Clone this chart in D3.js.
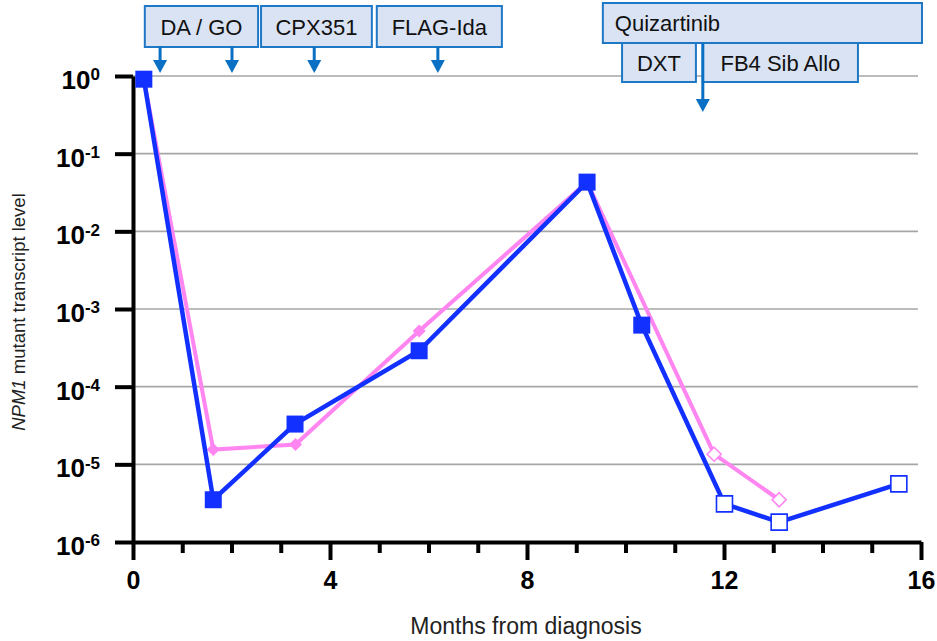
<!DOCTYPE html>
<html><head><meta charset="utf-8">
<script src="https://cdn.jsdelivr.net/npm/d3@7"></script>
<style>
body{margin:0;background:#fff}
svg{display:block}
text{font-family:"Liberation Sans",Arial,sans-serif}
</style></head>
<body><svg id="c" width="937" height="641"></svg>
<script>
// ---- data ----
const blueMonths = [0.22, 1.63, 3.29, 5.81, 9.22, 10.33, 12.01, 13.12, 15.55];
const blueValues = [0.91, 3.5e-6, 3.3e-5, 2.9e-4, 0.043, 6.2e-4, 3.1e-6, 1.8e-6, 5.6e-6];
const blueOpen   = [false, false, false, false, false, false, true, true, true];
const pinkMonths = [0.22, 1.63, 3.30, 5.81, 9.22, 11.80, 13.12];
const pinkValues = [0.91, 1.55e-5, 1.8e-5, 5.2e-4, 0.043, 1.35e-5, 3.5e-6];
const pinkOpen   = [false, false, false, false, false, true, true];
const xMajorTicks = [0, 4, 8, 12, 16];
const xMinorTicks = d3.range(0, 17, 1);
const yExponents = [0, -1, -2, -3, -4, -5, -6];
const annLabels = ["DA / GO", "CPX351", "FLAG-Ida", "Quizartinib", "DXT", "FB4 Sib Allo"];
const annStart  = [0.24, 2.60, 4.95, 9.54, 9.93, 11.57];
const annEnd    = [2.54, 4.85, 7.49, 16.02, 11.43, 14.72];
const annRow    = [0, 0, 0, 1, 2, 2];
const arrowMonths = [0.55, 2.01, 3.68, 6.19, 11.57];
const arrowRow    = [0, 0, 0, 0, 1];

// ---- layout ----
const svg = d3.select("#c");
const x = d3.scaleLinear([0, 16], [133, 921]);
const y = d3.scaleLog([1e-6, 1], [542, 76]);
const BLUE = "#1230ff", PINK = "#ff85f0";
const rows = [{y0: 6, y1: 47}, {y0: 3, y1: 43}, {y0: 43, y1: 82}];
const arrowSpan = [{y0: 47, y1: 73}, {y0: 43, y1: 112}];

// gridlines
svg.append("g").selectAll("line").data(yExponents.slice(0, 6)).join("line")
  .attr("x1", x(0)).attr("x2", 918)
  .attr("y1", d => y(Math.pow(10, d))).attr("y2", d => y(Math.pow(10, d)))
  .attr("stroke", "#a6a6a6").attr("stroke-width", 1.6);

// x axis
const gx = svg.append("g").attr("transform", `translate(0,${y(1e-6)})`)
  .call(d3.axisBottom(x).tickValues(xMinorTicks).tickSize(11).tickSizeOuter(0)
    .tickFormat(d => xMajorTicks.includes(d) ? d : ""));
gx.select(".domain").attr("stroke", "#000").attr("stroke-width", 4);
gx.selectAll(".tick line").attr("stroke", "#000").attr("stroke-width", 4)
  .attr("y2", d => xMajorTicks.includes(d) ? 18 : 11);
gx.selectAll(".tick text").attr("y", 29).attr("font-size", 25).attr("font-weight", "bold")
  .attr("fill", "#000").attr("font-family", "Liberation Sans, Arial, sans-serif");

// y axis
const gy = svg.append("g").attr("transform", `translate(${x(0)},0)`)
  .call(d3.axisLeft(y).tickValues(yExponents.map(e => Math.pow(10, e))).tickSize(18).tickPadding(15).tickSizeOuter(0));
gy.select(".domain").attr("stroke", "#000").attr("stroke-width", 4);
gy.selectAll(".tick line").attr("stroke", "#000").attr("stroke-width", 4);
gy.selectAll(".tick text").attr("dy", "0.48em").attr("font-size", 26).attr("font-weight", "bold")
  .attr("fill", "#000").attr("font-family", "Liberation Sans, Arial, sans-serif")
  .each(function(d) {
    const t = d3.select(this);
    t.text("10");
    t.append("tspan").attr("dy", "-0.5em").attr("font-size", 17)
      .text(Math.round(Math.log10(d)));
  });

// titles
svg.append("text").attr("x", 526).attr("y", 634).attr("text-anchor", "middle")
  .attr("font-size", 23).attr("fill", "#222").text("Months from diagnosis");
const yt = svg.append("text").attr("transform", "translate(25,312) rotate(-90)")
  .attr("text-anchor", "middle").attr("font-size", 18.5).attr("fill", "#222");
yt.append("tspan").attr("font-style", "italic").text("NPM1");
yt.append("tspan").text(" mutant transcript level");

// series
function drawSeries(months, values, open, color, width, shape) {
  const pts = months.map((m, i) => ({m, v: values[i], open: open[i]}));
  svg.append("path").datum(pts)
    .attr("d", d3.line().x(d => x(d.m)).y(d => y(d.v)))
    .attr("fill", "none").attr("stroke", color).attr("stroke-width", width)
    .attr("stroke-linejoin", "miter");
  svg.append("g").selectAll("path").data(pts).join("path")
    .attr("transform", d => `translate(${x(d.m)},${y(d.v)})`)
    .attr("d", d => shape(d.open))
    .attr("fill", d => d.open ? "#fff" : color)
    .attr("stroke", color).attr("stroke-width", d => d.open ? 1.6 : 0);
}
drawSeries(pinkMonths, pinkValues, pinkOpen, PINK, 4,
  o => o ? "M0,-7L7,0L0,7L-7,0Z" : "M0,-6.5L6.5,0L0,6.5L-6.5,0Z");
drawSeries(blueMonths, blueValues, blueOpen, BLUE, 4.5,
  o => o ? "M-8,-8H8V8H-8Z" : "M-8.5,-8.5H8.5V8.5H-8.5Z");

// annotations
const ann = annLabels.map((l, i) => ({l, s: annStart[i], e: annEnd[i], r: annRow[i]}));
const ag = svg.append("g");
ann.forEach(a => {
  const r = rows[a.r];
  ag.append("rect").attr("x", x(a.s)).attr("y", r.y0)
    .attr("width", x(a.e) - x(a.s)).attr("height", r.y1 - r.y0)
    .attr("fill", "#dae3f3").attr("stroke", "#1f78c6").attr("stroke-width", 2);
  const left = a.l === "Quizartinib";
  ag.append("text")
    .attr("x", left ? x(a.s) + 12 : (x(a.s) + x(a.e)) / 2)
    .attr("y", (r.y0 + r.y1) / 2 + 8)
    .attr("text-anchor", left ? "start" : "middle")
    .attr("font-size", 22).attr("fill", "#111").text(a.l);
});
arrowMonths.forEach((m, i) => {
  const s = arrowSpan[arrowRow[i]];
  const cx = x(m);
  ag.append("line").attr("x1", cx).attr("x2", cx).attr("y1", s.y0).attr("y2", s.y1 - 12)
    .attr("stroke", "#0a70c4").attr("stroke-width", 3);
  ag.append("path").attr("d", `M${cx - 7},${s.y1 - 13}L${cx + 7},${s.y1 - 13}L${cx},${s.y1}Z`)
    .attr("fill", "#0a70c4");
});
</script></body></html>
